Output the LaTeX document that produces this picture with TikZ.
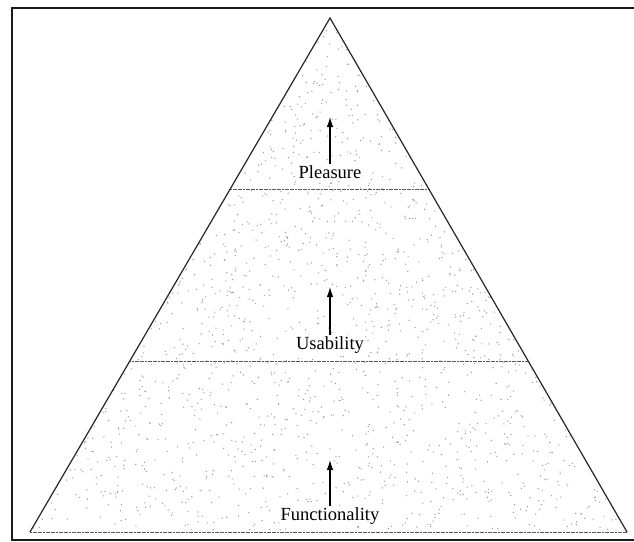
\documentclass[tikz,border=0pt]{standalone}
\usepackage{fontspec}
\setmainfont{Liberation Serif}
\usetikzlibrary{arrows.meta,calc}
\begin{document}
\begin{tikzpicture}[x=1pt,y=-1pt,
  side/.style={draw=black!85,line width=1.2pt},
  divider/.style={draw=black!65,line width=1pt,dash pattern=on 2pt off 0.6pt},
  label/.style={font=\fontsize{18.5}{20}\selectfont,inner sep=1.5pt,fill=white},
  uparrow/.style={draw=black,line width=1.1pt,-{Latex[length=10pt,width=6.5pt]}},
  frame/.style={draw=black!90,line width=2pt}]
\useasboundingbox (0,0) rectangle (634,541);
\fill[white] (0,0) rectangle (634,541);
% frame
\draw[frame] (640,8) -- (12,8) -- (12,540) -- (640,540);
% triangle corners
\coordinate (apex) at (330,18);
\coordinate (bl) at (30,532);
\coordinate (br) at (627,532);
% stipple
\begin{scope}
\clip (apex) -- (bl) -- (br) -- cycle;
\pgfmathsetseed{11}
\foreach \i in {1,...,3000}{
  \pgfmathsetmacro\px{30+597*rnd}
  \pgfmathsetmacro\py{20+510*rnd}
  \fill[black!40] (\px,\py) circle (0.7pt);
}
\end{scope}
% dividing lines
\coordinate (l1) at ($(apex)!0.3333!(bl)$);
\coordinate (r1) at ($(apex)!0.3333!(br)$);
\coordinate (l2) at ($(apex)!0.6686!(bl)$);
\coordinate (r2) at ($(apex)!0.6686!(br)$);
\draw[divider] (l1) -- (r1);
\draw[divider] (l2) -- (r2);
\draw[divider] (bl) -- (br);
% sides
\draw[side] (bl) -- (apex) -- (br);
% labels
\node[label] (plea) at (330,172) {Pleasure};
\node[label] (usab) at (330,345) {Usability};
\node[label] (func) at (330,516) {Functionality};
% arrow tips
\coordinate (ptip) at (330,117);
\coordinate (utip) at (330,287);
\coordinate (ftip) at (330,460);
\draw[uparrow] (plea.north) -- (ptip);
\draw[uparrow] (usab.north) -- (utip);
\draw[uparrow] (func.north) -- (ftip);
\end{tikzpicture}
\end{document}
